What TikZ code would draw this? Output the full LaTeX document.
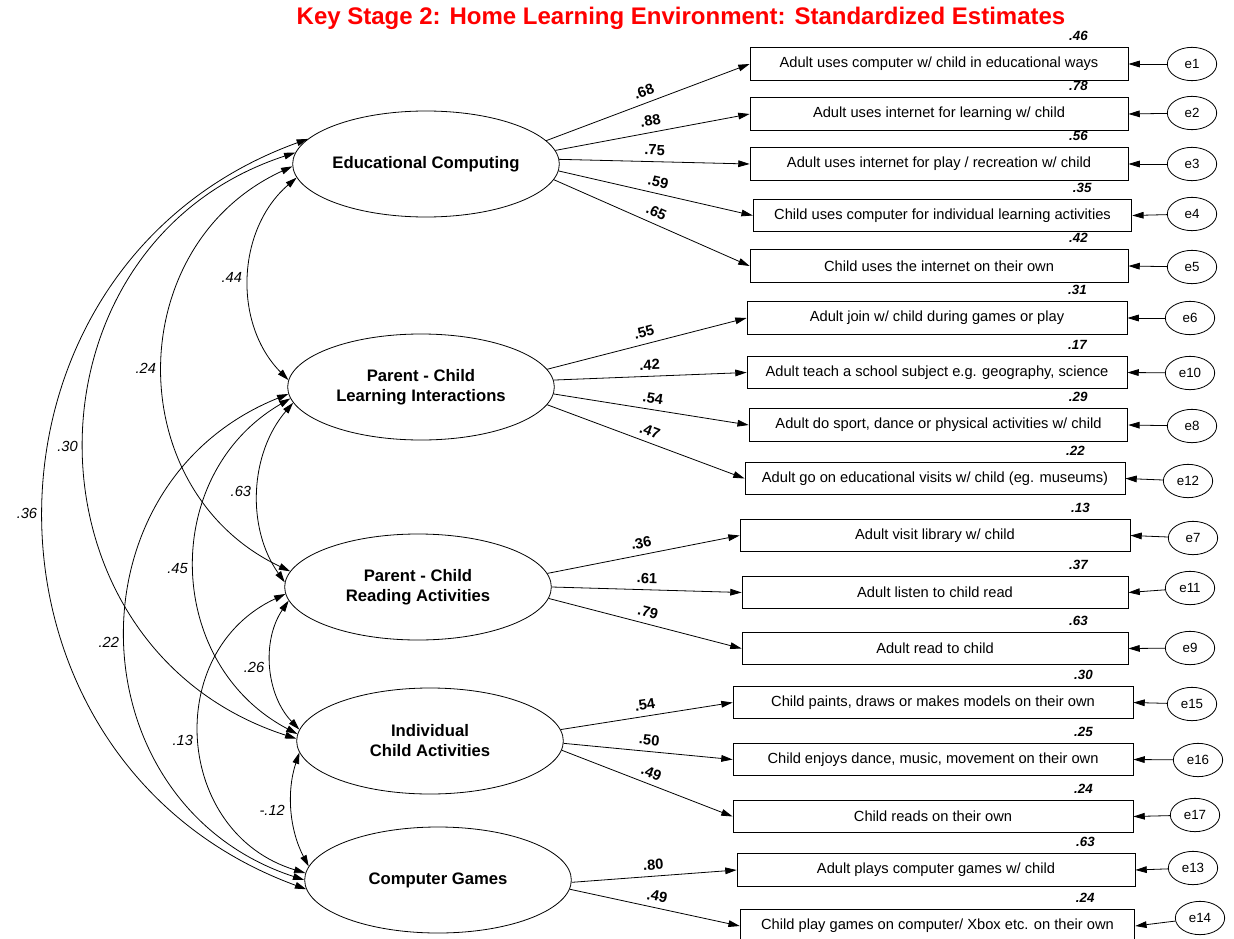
\documentclass[tikz,border=0pt]{standalone}
\usepackage{fontspec}
\setmainfont{Liberation Sans}
\usetikzlibrary{shapes.geometric, arrows.meta}

\tikzset{
  latent/.style={ellipse, draw, minimum width=200pt, minimum height=79.5pt, inner sep=0pt, align=center, font=\bfseries\fontsize{12.5}{15}\selectfont},
  indicator/.style={draw, minimum height=24.5pt, inner sep=0pt, font=\fontsize{11}{13}\selectfont},
  errvar/.style={ellipse, draw, minimum width=37pt, minimum height=25pt, inner sep=0pt, font=\fontsize{10}{12}\selectfont},
  loadlbl/.style={midway, above=3pt, sloped, inner sep=1.5pt, font=\bfseries\fontsize{11}{13}\selectfont},
  covlbl/.style={midway, left=4pt, inner sep=1pt, font=\itshape\fontsize{11}{13}\selectfont},
  rsq/.style={font=\bfseries\itshape\fontsize{10}{12}\selectfont},
}

\begin{document}
\begin{tikzpicture}[x=0.75pt, y=0.75pt, line width=0.6pt, >={Triangle[length=8.5pt,width=5pt]}]
  \useasboundingbox (0,0) rectangle (1234,-938);
  % title
  \node[text=red, font=\bfseries\fontsize{18}{21}\selectfont] (title) at (681,-18)
    {Key Stage 2: Home Learning Environment: Standardized Estimates};
  % latent factors
  \node[latent] (EC) at (426,-164) {Educational Computing};
  \node[latent] (PL) at (421,-387) {Parent - Child\\Learning Interactions};
  \node[latent] (PR) at (418,-587) {Parent - Child\\Reading Activities};
  \node[latent] (IC) at (430,-741) {Individual\\Child Activities};
  \node[latent] (CG) at (438,-880) {Computer Games};
  % observed items, squared multiple correlations and error terms
  \foreach \n/\cx/\cy/\w/\r/\e/\ex/\ey/\txt in {
    1/939/64/283.5pt/.46/e1/1192/64/{Adult uses computer w/ child in educational ways},
    2/939/114/283.5pt/.78/e2/1192/113/{Adult uses internet for learning w/ child},
    3/939/164/283.5pt/.56/e3/1192/164/{Adult uses internet for play / recreation w/ child},
    4/942.5/215.5/284pt/.35/e4/1192/214/{Child uses computer for individual learning activities},
    5/939/266/283.5pt/.42/e5/1192/267/{Child uses the internet on their own},
    6/937/318/285pt/.31/e6/1190/318/{Adult join w/ child during games or play},
    7/937/372.5/285pt/.17/e10/1190/373/{Adult teach a school subject e.g. geography, science},
    8/938.5/425/284pt/.29/e8/1192/426/{Adult do sport, dance or physical activities w/ child},
    9/935/478.5/285pt/.22/e12/1188/481/{Adult go on educational visits w/ child (eg. museums)},
    10/935/535.5/292.5pt/.13/e7/1193/538/{Adult visit library w/ child},
    11/935/592.5/289.5pt/.37/e11/1190/588/{Adult listen to child read},
    12/935/648.5/289.5pt/.63/e9/1190/648/{Adult read to child},
    13/933/702.5/300pt/.30/e15/1192/704/{Child paints, draws or makes models on their own},
    14/933/759.5/300pt/.25/e16/1198/760/{Child enjoys dance, music, movement on their own},
    15/933/816.5/300pt/.24/e17/1195/815/{Child reads on their own},
    16/936/870/298.5pt/.63/e13/1193/868/{Adult plays computer games w/ child},
    17/937.5/926/296pt/.24/e14/1200/918/{Child play games on computer/ Xbox etc. on their own}} {
    \node[indicator, minimum width=\w] (b\n) at (\cx,-\cy) {\txt};
    \node[rsq] at ([xshift=-37.5pt, yshift=8.25pt]b\n.north east) {\r};
    \node[errvar] (\e) at (\ex,-\ey) {\e};
    \draw[->] (\e) -- (b\n.east);
  }
  % factor loadings
  \foreach \f/\n/\v in {EC.11/1/.68, EC.6/2/.88, EC.2/3/.75, EC.357/4/.59, EC.353/5/.65,
    PL.8/6/.55, PL.3/7/.42, PL.357/8/.54, PL.352/9/.47,
    PR.6/10/.36, PR.0/11/.61, PR.355/12/.79,
    IC.5/13/.54, IC.359/14/.50, IC.356/15/.49, CG.359/16/.80, CG.356/17/.49}
    \draw[->] (\f) -- node[loadlbl] {\v} (b\n.west);
  % correlations between factors
  \foreach \a/\b/\bend/\loose/\v in {
    EC.168/CG.184/70/1.27/.36, EC.175/IC.179/72/1.29/.30,
    EC.181/PR.173/65/1.19/.24, EC.186/PL.177/47/1.0/.44,
    PL.183/CG.180/70/1.27/.22, PL.185/IC.177/61/1.15/.45,
    PL.187/PR.178/38/0.95/.63, PR.183/CG.177/69/1.25/.13,
    PR.186/IC.175/39/0.96/.26, IC.185/CG.174/23/0.93/-.12}
    \draw[<->] (\a) to[bend right=\bend, looseness=\loose] node[covlbl] {\v} (\b);
\end{tikzpicture}
\end{document}
